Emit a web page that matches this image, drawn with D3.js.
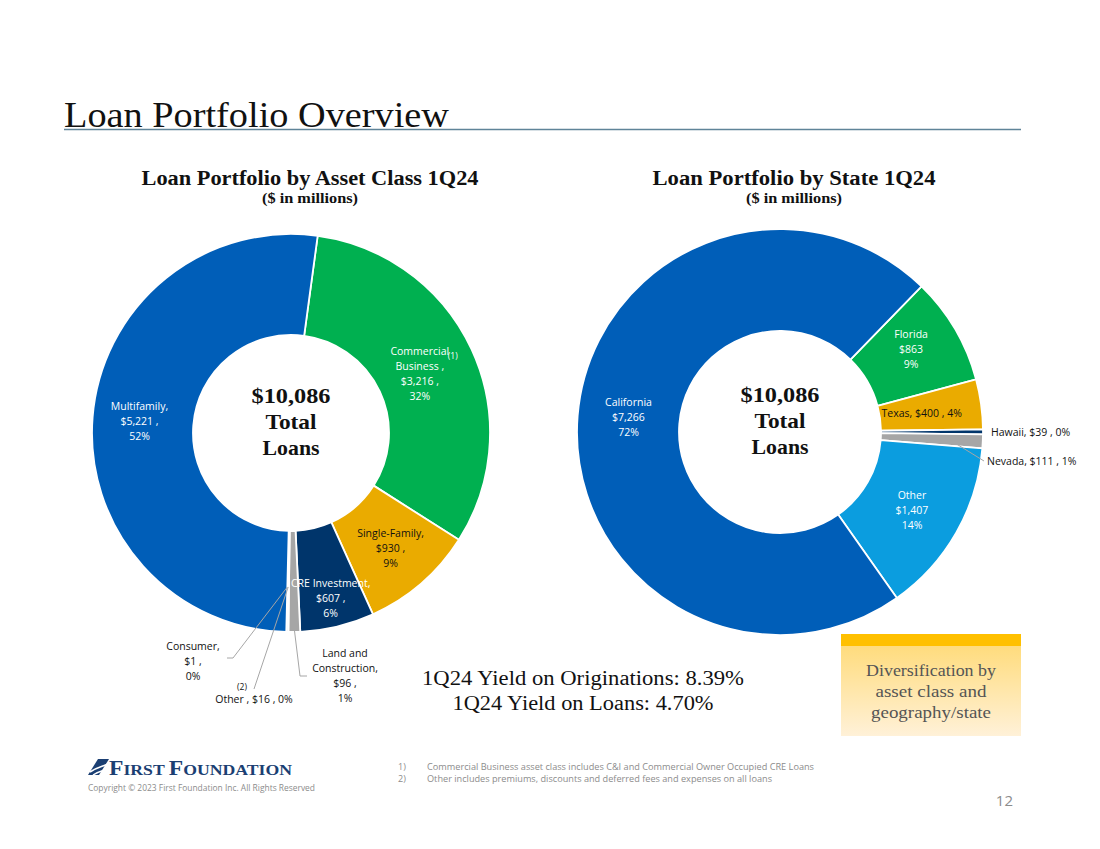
<!DOCTYPE html>
<html><head><meta charset="utf-8">
<script src="https://cdn.jsdelivr.net/npm/d3@7"></script>
<style>
html,body{margin:0;padding:0;background:#fff;}
svg{display:block;}
</style></head>
<body>
<svg id="chart" width="1100" height="849"></svg>
<script>
// ---------- DATA ----------
const assetCategories = ["Commercial Business", "Single-Family", "CRE Investment", "Land and Construction", "Other", "Consumer", "Multifamily"];
const assetValues = [3216, 930, 607, 96, 16, 1, 5221];
const assetPercents = ["32%", "9%", "6%", "1%", "0%", "0%", "52%"];
const assetColors = ["#00B050", "#EAAB00", "#00356B", "#A6A6A6", "#9DC3E6", "#5B9BD5", "#005EB8"];

const stateCategories = ["Florida", "Texas", "Hawaii", "Nevada", "Other", "California"];
const stateValues = [863, 400, 39, 111, 1407, 7266];
const statePercents = ["9%", "4%", "0%", "1%", "14%", "72%"];
const stateColors = ["#00B050", "#EAAB00", "#00356B", "#A6A6A6", "#0B9DDF", "#005EB8"];

const totalLabel = "$10,086";
const yieldLines = ["1Q24 Yield on Originations: 8.39%", "1Q24 Yield on Loans: 4.70%"];
const footnotes = [["1)", "Commercial Business asset class includes C&I and Commercial Owner Occupied CRE Loans"],
                   ["2)", "Other includes premiums, discounts and deferred fees and expenses on all loans"]];

const fmt = d3.format(",");
const svg = d3.select("#chart");
const SERIF = "'Liberation Serif', 'DejaVu Serif', serif";
const SANS = "'Open Sans', 'Noto Sans', sans-serif";

// text with fitted width
function fitText(sel, x, y, txt, len, opts) {
  const t = sel.append("text").attr("x", x).attr("y", y).text(txt)
    .attr("font-family", opts.family || SERIF).attr("font-size", opts.size)
    .attr("fill", opts.fill || "#111");
  if (opts.weight) t.attr("font-weight", opts.weight);
  if (opts.anchor) t.attr("text-anchor", opts.anchor);
  if (len) t.attr("textLength", len).attr("lengthAdjust", "spacingAndGlyphs");
  return t;
}

// ---------- HEADER ----------
fitText(svg, 64, 127, "Loan Portfolio Overview", 385, {size: 36});
svg.append("line").attr("x1", 64).attr("x2", 1021).attr("y1", 129.5).attr("y2", 129.5)
  .attr("stroke", "#5F8499").attr("stroke-width", 1.6);

function chartTitle(cx, title, len) {
  fitText(svg, cx, 185, title, len, {size: 20, weight: "bold", anchor: "middle"});
  fitText(svg, cx, 203, "($ in millions)", 96, {size: 14, weight: "bold", anchor: "middle"});
}
chartTitle(310, "Loan Portfolio by Asset Class 1Q24", 337);
chartTitle(794, "Loan Portfolio by State 1Q24", 283);

// ---------- DONUT HELPER ----------
function donut(opts) {
  const {cx, cy, rOuter, rInner, values, colors, startDeg} = opts;
  const a0 = startDeg * Math.PI / 180;
  const pie = d3.pie().sort(null).startAngle(a0).endAngle(a0 + 2 * Math.PI);
  const arcs = pie(values);
  const arc = d3.arc().innerRadius(rInner).outerRadius(rOuter);
  const g = svg.append("g").attr("transform", `translate(${cx},${cy})`);
  g.selectAll("path").data(arcs).join("path")
    .attr("d", arc).attr("fill", (d, i) => colors[i])
    .attr("stroke", "#fff").attr("stroke-width", 1.8).attr("stroke-linejoin", "round");
  // center label
  fitText(g, 0, -30, totalLabel, 79, {size: 21, weight: "bold", anchor: "middle"});
  fitText(g, 0, -4, "Total", 51, {size: 21, weight: "bold", anchor: "middle"});
  fitText(g, 0, 22, "Loans", 57, {size: 21, weight: "bold", anchor: "middle"});
  return {g, arcs, arc};
}

function multiLabel(g, x, y, lines, color, lh = 15) {
  const t = g.append("text").attr("text-anchor", "middle")
    .attr("font-family", SANS).attr("font-size", 10.5).attr("fill", color);
  const top = y - (lines.length - 1) * lh / 2 + 4;
  lines.forEach((l, i) => t.append("tspan").attr("x", x).attr("y", top + i * lh).text(l));
  return t;
}

// ---------- LEFT: ASSET CLASS ----------
const L = donut({cx: 291, cy: 433, rOuter: 199, rInner: 98, values: assetValues, colors: assetColors, startDeg: 7.7});
{
  const mid = d => (d.startAngle + d.endAngle) / 2;
  const pt = (d, r) => [r * Math.sin(mid(d)), -r * Math.cos(mid(d))];
  const a = L.arcs;
  let p = pt(a[0], 142);
  multiLabel(L.g, p[0], p[1], ["Commercial", "Business ,", "$" + fmt(assetValues[0]) + " ,", assetPercents[0]], "#fff");
  L.g.append("text").attr("x", p[0] + 33).attr("y", p[1] - 14).attr("text-anchor", "middle")
    .attr("font-family", SANS).attr("font-size", 8.5).attr("fill", "#fff").text("(1)");
  p = pt(a[1], 152);
  multiLabel(L.g, p[0], p[1], ["Single-Family,", "$" + fmt(assetValues[1]) + " ,", assetPercents[1]], "#111");
  p = pt(a[2], 170);
  multiLabel(L.g, p[0], p[1], ["CRE Investment,", "$" + fmt(assetValues[2]) + " ,", assetPercents[2]], "#fff");
  p = pt(a[6], 152);
  multiLabel(L.g, p[0], p[1], ["Multifamily,", "$" + fmt(assetValues[6]) + " ,", assetPercents[6]], "#fff");

  const leader = pts => L.g.append("polyline").attr("points", pts.map(q => q.join(",")).join(" "))
    .attr("fill", "none").attr("stroke", "#A6A6A6").attr("stroke-width", 1);
  let s = pt(a[3], 196);
  leader([s, [9, 243], [16, 243]]);
  multiLabel(L.g, 54, 242, ["Land and", "Construction,", "$" + fmt(assetValues[3]) + " ,", assetPercents[3]], "#111");
  s = pt(a[4], 154);
  leader([s, [-37, 256]]);
  L.g.append("text").attr("x", -49).attr("y", 257).attr("text-anchor", "middle")
    .attr("font-family", SANS).attr("font-size", 8.5).attr("fill", "#111").text("(2)");
  L.g.append("text").attr("x", -37).attr("y", 270).attr("text-anchor", "middle")
    .attr("font-family", SANS).attr("font-size", 10.5).attr("fill", "#111")
    .text("Other  , $" + fmt(assetValues[4]) + " , " + assetPercents[4]);
  s = pt(a[5], 154);
  leader([s, [-58, 225], [-64, 225]]);
  multiLabel(L.g, -98, 228, ["Consumer,", "$" + fmt(assetValues[5]) + " ,", assetPercents[5]], "#111");
}

// ---------- RIGHT: STATE ----------
const R = donut({cx: 780, cy: 432, rOuter: 203, rInner: 101, values: stateValues, colors: stateColors, startDeg: 44.2});
{
  const mid = d => (d.startAngle + d.endAngle) / 2;
  const pt = (d, r) => [r * Math.sin(mid(d)), -r * Math.cos(mid(d))];
  const a = R.arcs;
  let p = pt(a[0], 152);
  multiLabel(R.g, p[0], p[1] - 6, [stateCategories[0], "$" + fmt(stateValues[0]), statePercents[0]], "#fff");
  p = pt(a[1], 143);
  multiLabel(R.g, p[0], p[1] + 1, [stateCategories[1] + ", $" + fmt(stateValues[1]) + " , " + statePercents[1]], "#111");
  p = pt(a[4], 152);
  multiLabel(R.g, p[0], p[1] + 3, [stateCategories[4], "$" + fmt(stateValues[4]), statePercents[4]], "#fff");
  p = pt(a[5], 152);
  multiLabel(R.g, p[0], p[1] - 3, [stateCategories[5], "$" + fmt(stateValues[5]), statePercents[5]], "#fff");
  R.g.append("text").attr("x", 211).attr("y", 4).attr("font-family", SANS).attr("font-size", 10.5)
    .attr("fill", "#111").text(stateCategories[2] + ", $" + fmt(stateValues[2]) + " , " + statePercents[2]);
  const s = pt(a[3], 170);
  R.g.append("polyline").attr("points", [s, [204, 29]].map(q => q.join(",")).join(" "))
    .attr("fill", "none").attr("stroke", "#A6A6A6").attr("stroke-width", 1);
  R.g.append("text").attr("x", 207).attr("y", 33).attr("font-family", SANS).attr("font-size", 10.5)
    .attr("fill", "#111").text(stateCategories[3] + ", $" + fmt(stateValues[3]) + " , " + statePercents[3]);
}

// ---------- YIELDS ----------
fitText(svg, 583, 685, yieldLines[0], 322, {size: 20, anchor: "middle"});
fitText(svg, 583, 710, yieldLines[1], 261, {size: 20, anchor: "middle"});

// ---------- DIVERSIFICATION BOX ----------
const defs = svg.append("defs");
const gr = defs.append("linearGradient").attr("id", "boxg").attr("x1", 0).attr("x2", 0).attr("y1", 0).attr("y2", 1);
gr.append("stop").attr("offset", "0%").attr("stop-color", "#FFD971");
gr.append("stop").attr("offset", "100%").attr("stop-color", "#FFF1D8");
svg.append("rect").attr("x", 841).attr("y", 634).attr("width", 180).attr("height", 102).attr("fill", "url(#boxg)");
svg.append("rect").attr("x", 841).attr("y", 634).attr("width", 180).attr("height", 12).attr("fill", "#FFC000");
fitText(svg, 931, 676, "Diversification by", 130, {size: 17, anchor: "middle", fill: "#555"});
fitText(svg, 931, 697, "asset class and", 111, {size: 17, anchor: "middle", fill: "#555"});
fitText(svg, 931, 718, "geography/state", 120, {size: 17, anchor: "middle", fill: "#555"});

// ---------- FOOTER ----------
const logo = svg.append("g").attr("transform", "translate(88,759)");
logo.append("path").attr("d", "M0,16 L10,0 L21,0 L11,16 Z").attr("fill", "#1B3F73");
logo.append("path").attr("d", "M2,13 C9,8 14,8 22,4").attr("stroke", "#fff").attr("stroke-width", 1.6).attr("fill", "none");
logo.append("path").attr("d", "M5,16 C11,12 15,12 22,9").attr("stroke", "#fff").attr("stroke-width", 1.4).attr("fill", "none");
const lt = logo.append("text").attr("x", 21).attr("y", 15.5).attr("font-family", SERIF).attr("font-weight", "bold")
  .attr("fill", "#1B3F73").attr("textLength", 183).attr("lengthAdjust", "spacingAndGlyphs");
lt.append("tspan").attr("font-size", 20).text("F");
lt.append("tspan").attr("font-size", 15).text("IRST ");
lt.append("tspan").attr("font-size", 20).text("F");
lt.append("tspan").attr("font-size", 15).text("OUNDATION");
fitText(svg, 88, 791, "Copyright \u00A9 2023 First Foundation Inc. All Rights Reserved", 227,
  {family: SANS, size: 8.4, fill: "#8c8c8c"});

footnotes.forEach((f, i) => {
  svg.append("text").attr("x", 398).attr("y", 770 + i * 12).attr("font-family", SANS).attr("font-size", 9)
    .attr("fill", "#8c8c8c").text(f[0]);
  fitText(svg, 427, 770 + i * 12, f[1], i === 0 ? 387 : 345, {family: SANS, size: 9, fill: "#8c8c8c"});
});
svg.append("text").attr("x", 1013).attr("y", 806).attr("text-anchor", "end").attr("font-family", SANS)
  .attr("font-size", 15).attr("fill", "#8c8c8c").text("12");
</script>
</body></html>
